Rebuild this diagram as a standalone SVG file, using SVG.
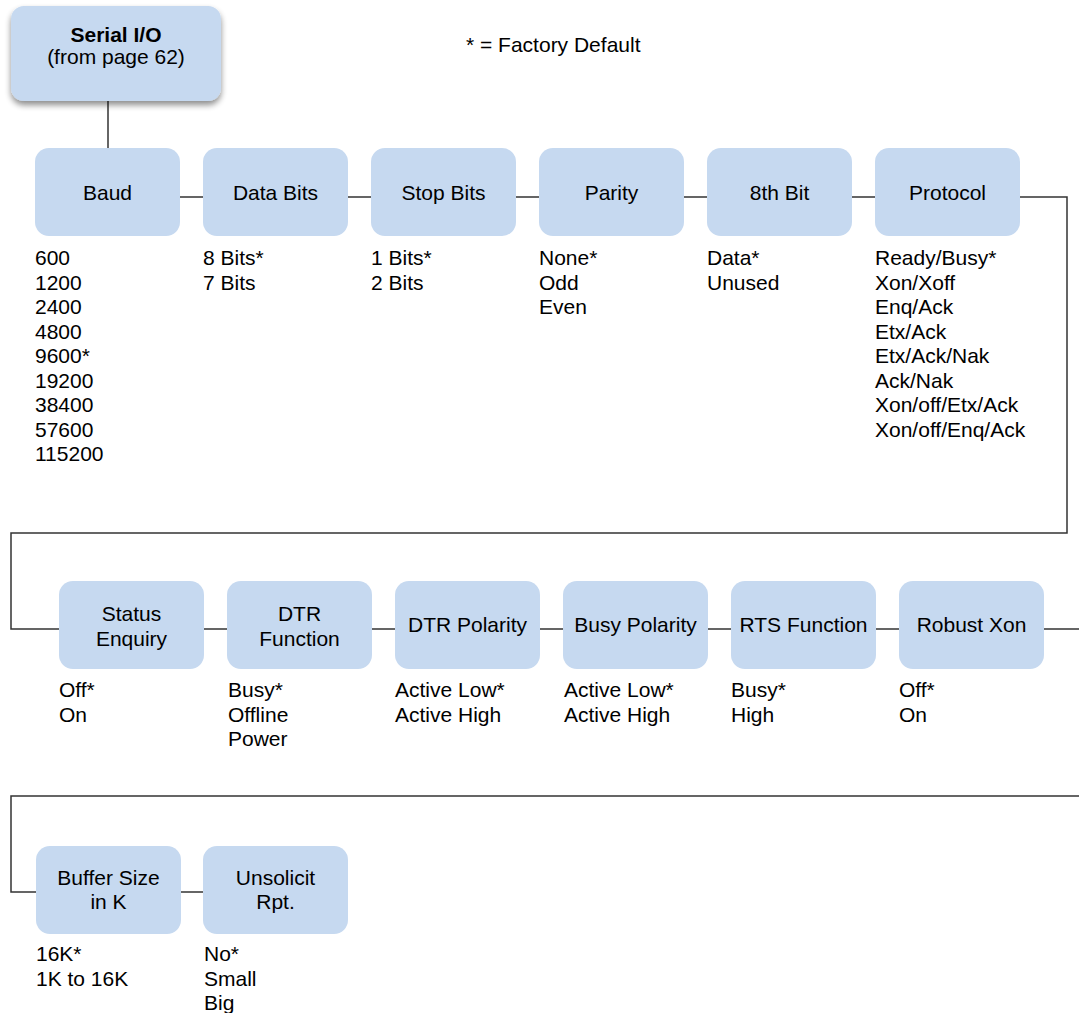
<svg xmlns="http://www.w3.org/2000/svg" width="1079" height="1013" viewBox="0 0 1079 1013">
<style>
  text { font-family: "Liberation Sans", Arial, sans-serif; font-size: 21px; fill: #000; }
  .lbl { text-anchor: middle; }
  .box { fill: #C6D9F0; }
  .conn { fill: none; stroke: #333; stroke-width: 1.5; }
</style>
<defs>
  <filter id="shadow" x="-10%" y="-10%" width="120%" height="130%">
    <feGaussianBlur in="SourceAlpha" stdDeviation="3"/>
    <feOffset dx="0" dy="4" result="b"/>
    <feComponentTransfer><feFuncA type="linear" slope="0.45"/></feComponentTransfer>
    <feMerge><feMergeNode/><feMergeNode in="SourceGraphic"/></feMerge>
  </filter>
</defs>
<rect width="1079" height="1013" fill="#fff"/>

<g id="connectors">
  <path class="conn" d="M108,101 V148"/>
  <path class="conn" d="M180,197 H203 M348,197 H371 M516,197 H539 M684,197 H707 M852,197 H875"/>
  <path class="conn" d="M1020,197 H1067 V533 H11 V629 H59"/>
  <path class="conn" d="M204,629 H227 M372,629 H395 M540,629 H563 M708,629 H731 M876,629 H899"/>
  <path class="conn" d="M1044,629 H1083 V796 H11 V892 H36"/>
  <path class="conn" d="M181,892 H203"/>
</g>

<g id="legend"><text x="466" y="52">* = Factory Default</text></g>

<g id="serial-io">
  <rect class="box" x="11" y="6" width="210" height="95" rx="13" filter="url(#shadow)"/>
  <text class="lbl" x="116" y="42" font-weight="bold">Serial I/O</text>
  <text class="lbl" x="116" y="64">(from page 62)</text>
</g>

<g id="baud">
  <rect class="box" x="35" y="148" width="145" height="88" rx="14"/>
  <text class="lbl" x="107.5" y="200">Baud</text>
  <text x="35" y="265">600</text><text x="35" y="289.5">1200</text><text x="35" y="314">2400</text>
  <text x="35" y="338.5">4800</text><text x="35" y="363">9600*</text><text x="35" y="387.5">19200</text>
  <text x="35" y="412">38400</text><text x="35" y="436.5">57600</text><text x="35" y="461">115200</text>
</g>
<g id="data-bits">
  <rect class="box" x="203" y="148" width="145" height="88" rx="14"/>
  <text class="lbl" x="275.5" y="200">Data Bits</text>
  <text x="203" y="265">8 Bits*</text><text x="203" y="289.5">7 Bits</text>
</g>
<g id="stop-bits">
  <rect class="box" x="371" y="148" width="145" height="88" rx="14"/>
  <text class="lbl" x="443.5" y="200">Stop Bits</text>
  <text x="371" y="265">1 Bits*</text><text x="371" y="289.5">2 Bits</text>
</g>
<g id="parity">
  <rect class="box" x="539" y="148" width="145" height="88" rx="14"/>
  <text class="lbl" x="611.5" y="200">Parity</text>
  <text x="539" y="265">None*</text><text x="539" y="289.5">Odd</text><text x="539" y="314">Even</text>
</g>
<g id="eighth-bit">
  <rect class="box" x="707" y="148" width="145" height="88" rx="14"/>
  <text class="lbl" x="779.5" y="200">8th Bit</text>
  <text x="707" y="265">Data*</text><text x="707" y="289.5">Unused</text>
</g>
<g id="protocol">
  <rect class="box" x="875" y="148" width="145" height="88" rx="14"/>
  <text class="lbl" x="947.5" y="200">Protocol</text>
  <text x="875" y="265">Ready/Busy*</text><text x="875" y="289.5">Xon/Xoff</text><text x="875" y="314">Enq/Ack</text>
  <text x="875" y="338.5">Etx/Ack</text><text x="875" y="363">Etx/Ack/Nak</text><text x="875" y="387.5">Ack/Nak</text>
  <text x="875" y="412">Xon/off/Etx/Ack</text><text x="875" y="436.5">Xon/off/Enq/Ack</text>
</g>

<g id="status-enquiry">
  <rect class="box" x="59" y="581" width="145" height="88" rx="14"/>
  <text class="lbl" x="131.5" y="621">Status</text><text class="lbl" x="131.5" y="646">Enquiry</text>
  <text x="59" y="697">Off*</text><text x="59" y="721.5">On</text>
</g>
<g id="dtr-function">
  <rect class="box" x="227" y="581" width="145" height="88" rx="14"/>
  <text class="lbl" x="299.5" y="621">DTR</text><text class="lbl" x="299.5" y="646">Function</text>
  <text x="228" y="697">Busy*</text><text x="228" y="721.5">Offline</text><text x="228" y="746">Power</text>
</g>
<g id="dtr-polarity">
  <rect class="box" x="395" y="581" width="145" height="88" rx="14"/>
  <text class="lbl" x="467.5" y="632">DTR Polarity</text>
  <text x="395" y="697">Active Low*</text><text x="395" y="721.5">Active High</text>
</g>
<g id="busy-polarity">
  <rect class="box" x="563" y="581" width="145" height="88" rx="14"/>
  <text class="lbl" x="635.5" y="632">Busy Polarity</text>
  <text x="564" y="697">Active Low*</text><text x="564" y="721.5">Active High</text>
</g>
<g id="rts-function">
  <rect class="box" x="731" y="581" width="145" height="88" rx="14"/>
  <text class="lbl" x="803.5" y="632">RTS Function</text>
  <text x="731" y="697">Busy*</text><text x="731" y="721.5">High</text>
</g>
<g id="robust-xon">
  <rect class="box" x="899" y="581" width="145" height="88" rx="14"/>
  <text class="lbl" x="971.5" y="632">Robust Xon</text>
  <text x="899" y="697">Off*</text><text x="899" y="721.5">On</text>
</g>

<g id="buffer-size">
  <rect class="box" x="36" y="846" width="145" height="88" rx="14"/>
  <text class="lbl" x="108.5" y="885">Buffer Size</text><text class="lbl" x="108.5" y="909">in K</text>
  <text x="36" y="961">16K*</text><text x="36" y="985.5">1K to 16K</text>
</g>
<g id="unsolicit-rpt">
  <rect class="box" x="203" y="846" width="145" height="88" rx="14"/>
  <text class="lbl" x="275.5" y="885">Unsolicit</text><text class="lbl" x="275.5" y="909">Rpt.</text>
  <text x="204" y="961">No*</text><text x="204" y="985.5">Small</text><text x="204" y="1010">Big</text>
</g>
</svg>
